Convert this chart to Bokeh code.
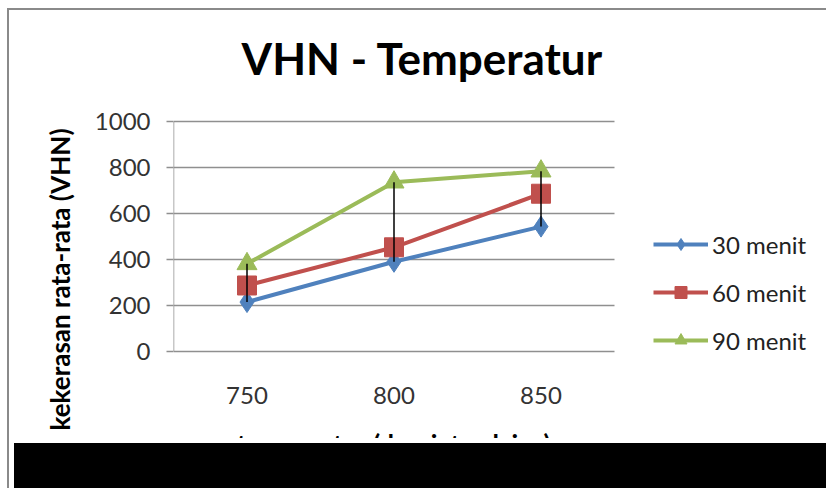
from bokeh.plotting import figure
from bokeh.models import Legend, LegendItem, Range1d, FixedTicker, Title, Div, Label
from bokeh.core.properties import value
from bokeh.layouts import column
from bokeh.embed import file_html
from bokeh.resources import INLINE
import numpy as np

categories = ["750", "800", "850"]
series_names = ["30 menit", "60 menit", "90 menit"]
s30 = [215, 390, 543]
s60 = [287, 453, 686]
s90 = [381, 736, 784]
y_ticks = [0, 200, 400, 600, 800, 1000]
title_text = "VHN - Temperatur"
y_title = "kekerasan rata-rata (VHN)"
x_title = "temperatur (derajat celcius)"

# page layout (pixels)
OX, OY = 9, 10                  # figure origin inside the bordered page
PAGE_W, FIG_BOTTOM = 826, 438   # black bar below the figure
PL, PR, PT, PB = 173, 614, 121, 351   # plot area in page pixels
W, H = PAGE_W - OX, FIG_BOTTOM - OY
FRAME_LEFT = PL - OX

ncat = len(categories)
px_per_x = (PR - PL) / ncat
px_per_y = (PB - PT) / max(y_ticks)
x_end = (PAGE_W - PL) / px_per_x
y_start = -(FIG_BOTTOM - PB) / px_per_y
y_end = max(y_ticks) + (PT - OY) / px_per_y

xpos = (np.arange(ncat) + 0.5).tolist()

p = figure(width=W, height=H, x_range=Range1d(0, x_end), y_range=Range1d(y_start, y_end),
           output_backend="svg", toolbar_location=None,
           min_border_left=FRAME_LEFT, min_border_right=0, min_border_top=0, min_border_bottom=0)
p.outline_line_color = None
p.background_fill_color = "white"
p.border_fill_color = "white"
p.title.visible = False
p.xaxis.visible = False
p.xgrid.grid_line_color = None
p.ygrid.grid_line_color = None

GRID = "#8f8f8f"
p.yaxis.ticker = FixedTicker(ticks=y_ticks)
p.yaxis.axis_line_color = None
p.yaxis.major_tick_line_color = GRID
p.yaxis.major_tick_line_width = 1.5
p.yaxis.major_tick_out = 7
p.yaxis.major_tick_in = 0
p.yaxis.minor_tick_line_color = None
p.yaxis.major_label_standoff = 16
p.yaxis.major_label_text_font = "Lato"
p.yaxis.major_label_text_font_size = "24px"
p.yaxis.major_label_text_color = "#333333"

# plot-area grid, axis lines
p.segment(x0=[0] * len(y_ticks), x1=[ncat] * len(y_ticks), y0=y_ticks, y1=y_ticks,
          line_color=GRID, line_width=1.5)
p.segment(x0=[0], x1=[0], y0=[min(y_ticks)], y1=[max(y_ticks)], line_color=GRID, line_width=1.5)

# category labels and x title
p.text(x=xpos, y=[0] * ncat, text=categories, y_offset=44, text_align="center",
       text_baseline="middle", text_font=value("Lato"), text_font_size="24px", text_color="#333333")
p.text(x=[ncat / 2], y=[0], text=[x_title], y_offset=76, text_align="center",
       text_baseline="top", text_font=value("Lato"), text_font_style="bold",
       text_font_size="26px", text_color="black")

colors = ["#4F81BD", "#C0504D", "#9BBB59"]
data = [s30, s60, s90]
r1 = p.line(xpos, s30, color=colors[0], line_width=4)
m1 = p.scatter(xpos, s30, marker="diamond", size=21, color=colors[0])
r2 = p.line(xpos, s60, color=colors[1], line_width=4)
m2 = p.scatter(xpos, s60, marker="square", size=19, color=colors[1])
r3 = p.line(xpos, s90, color=colors[2], line_width=4)
m3 = p.scatter(xpos, s90, marker="triangle", size=20, color=colors[2])

arr = np.array(data)
p.segment(x0=xpos, y0=arr.min(axis=0).tolist(), x1=xpos, y1=arr.max(axis=0).tolist(),
          line_color="black", line_width=1.5)

# title
p.add_layout(Label(x=422 - PL, y=FIG_BOTTOM - 57, x_units="screen", y_units="screen",
                   text=title_text, text_font="Lato", text_font_style="bold", text_font_size="44px",
                   text_align="center", text_baseline="alphabetic", text_color="black"))

# y title (left panel)
p.add_layout(Title(text=y_title, align="left", offset=FIG_BOTTOM - 430, standoff=32,
                   text_font="Lato", text_font_style="bold", text_font_size="26px",
                   text_color="black"), "left")

legend = Legend(items=[LegendItem(label=series_names[0], renderers=[r1, m1]),
                       LegendItem(label=series_names[1], renderers=[r2, m2]),
                       LegendItem(label=series_names[2], renderers=[r3, m3])],
                location=(653 - PL, FIG_BOTTOM - 355), orientation="vertical")
legend.background_fill_alpha = 0
legend.border_line_color = None
legend.padding = 0
legend.margin = 0
legend.glyph_width = 55
legend.glyph_height = 30
legend.label_height = 30
legend.spacing = 18
legend.label_standoff = 4
legend.label_text_font = "Lato"
legend.label_text_font_size = "24px"
legend.label_text_color = "#222222"
p.add_layout(legend)

bar = Div(width=PAGE_W - OX, height=488 - FIG_BOTTOM, styles={"background-color": "black"})
layout = column(p, bar, spacing=0,
                styles={"margin-left": "7px", "margin-top": "8px",
                        "border-left": "2px solid #8a8a8a", "border-top": "2px solid #8a8a8a"})

open("out.html", "w").write(file_html(layout, INLINE))
